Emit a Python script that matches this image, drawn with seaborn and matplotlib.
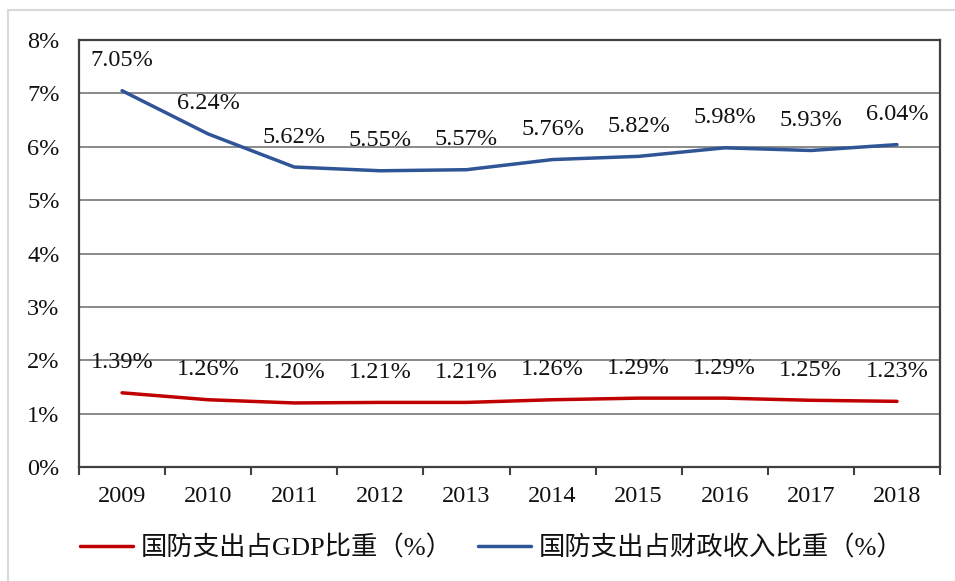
import matplotlib
matplotlib.use("Agg")
import matplotlib.pyplot as plt
import seaborn as sns
import pandas as pd
from matplotlib.patches import Rectangle
from matplotlib.lines import Line2D

years = ["2009", "2010", "2011", "2012", "2013", "2014", "2015", "2016", "2017", "2018"]
gdp_share = [1.39, 1.26, 1.20, 1.21, 1.21, 1.26, 1.29, 1.29, 1.25, 1.23]
fiscal_share = [7.05, 6.24, 5.62, 5.55, 5.57, 5.76, 5.82, 5.98, 5.93, 6.04]
series_names = ["国防支出占GDP比重（%）", "国防支出占财政收入比重（%）"]
y_ticks = [0, 1, 2, 3, 4, 5, 6, 7, 8]

sns.set_theme(style="white")
plt.rcParams['font.family'] = ['Liberation Serif', 'Noto Sans CJK SC']

df = pd.DataFrame({
    "year": list(range(len(years))) * 2,
    "value": gdp_share + fiscal_share,
    "series": [series_names[0]] * len(years) + [series_names[1]] * len(years),
})

fig = plt.figure(figsize=(9.55, 5.81), dpi=100)
fig.patches.append(Rectangle((8 / 955, -0.02), 1.0, 1 - 10 / 581 + 0.02, transform=fig.transFigure,
                             fill=False, edgecolor="#d9d9d9", linewidth=1.5))
ax = fig.add_axes([79 / 955, 1 - 467 / 581, (940 - 79) / 955, (467 - 40) / 581])

palette = {series_names[0]: "#C00000", series_names[1]: "#2F5597"}
sns.lineplot(data=df, x="year", y="value", hue="series", palette=palette, linewidth=2.5,
             ax=ax, legend=False)

FS = 17.5
for vals in (gdp_share, fiscal_share):
    for i, v in enumerate(vals):
        ax.annotate(f"{v:.2f}%", (i, v), xytext=(0, 30), textcoords="offset pixels",
                    ha="center", va="center", fontsize=FS, color="#111111",
                    family=['Liberation Serif'])

ax.set_xlim(-0.5, len(years) - 0.5)
ax.set_ylim(0, 8)
ax.set_yticks(y_ticks)
ax.set_yticklabels([f"{t}%" for t in y_ticks])
ax.set_xticks(range(len(years)))
ax.set_xticklabels(years)
ax.set_xticks([i - 0.5 for i in range(len(years) + 1)], minor=True)
ax.tick_params(axis="x", which="major", length=0, pad=14, labelsize=FS, labelcolor="#111111")
ax.tick_params(axis="x", which="minor", length=6, width=1.5, color="#404040", direction="out", bottom=True)
ax.tick_params(axis="y", length=0, pad=14, labelsize=FS, labelcolor="#111111")
ax.set_xlabel("")
ax.set_ylabel("")
ax.grid(axis="y", color="#808080", linewidth=1.3)
ax.set_axisbelow(True)
for s in ax.spines.values():
    s.set_color("#404040")
    s.set_linewidth(1.6)
    s.set_visible(True)

LFS = 19
legend_x = [80 / 955, 478 / 955]
for name, lx in zip(series_names, legend_x):
    h = Line2D([], [], color=palette[name], linewidth=2.5)
    leg = fig.legend([h], [name], loc="center left", bbox_to_anchor=(lx, 1 - 548 / 581),
                     frameon=False, borderpad=0, borderaxespad=0, handlelength=2.0,
                     handletextpad=0.3,
                     prop={'family': ['Liberation Serif', 'Noto Sans CJK SC'], 'size': LFS})
    for t in leg.get_texts():
        t.set_color("#111111")

fig.savefig("out.png", dpi=100)
